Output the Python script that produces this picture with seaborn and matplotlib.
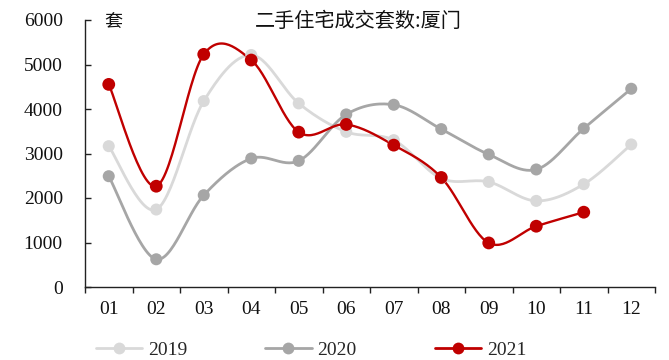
import numpy as np
import pandas as pd
import matplotlib
matplotlib.use("Agg")
import matplotlib.pyplot as plt
from matplotlib.lines import Line2D
import seaborn as sns

# Monthly second-hand housing transactions in Xiamen (units)
months = ["01", "02", "03", "04", "05", "06", "07", "08", "09", "10", "11", "12"]
sales_2019 = [3165, 1741, 4178, 5213, 4126, 3487, 3300, 2440, 2362, 1935, 2310, 3204]
sales_2020 = [2490, 623, 2063, 2888, 2835, 3878, 4095, 3548, 2979, 2641, 3563, 4455]
sales_2021 = [4553, 2265, 5228, 5100, 3480, 3653, 3188, 2461, 990, 1366, 1681]
years = ["2019", "2020", "2021"]
colors = ["#d9d9d9", "#a6a6a6", "#c00000"]

sns.set_theme(style="white")
plt.rcParams["font.family"] = ["Liberation Serif", "Noto Sans CJK SC"]


def smooth(xs, ys, n=30):
    """Catmull-Rom spline through the points (same as smoothed lines in office charts)."""
    pts = np.column_stack([xs, ys]).astype(float)
    p = np.vstack([pts[0], pts, pts[-1]])
    out = []
    for i in range(1, len(p) - 2):
        p0, p1, p2, p3 = p[i - 1], p[i], p[i + 1], p[i + 2]
        c1 = p1 + (p2 - p0) / 6.0
        c2 = p2 - (p3 - p1) / 6.0
        t = np.linspace(0, 1, n, endpoint=(i == len(p) - 3))[:, None]
        seg = ((1 - t) ** 3) * p1 + 3 * ((1 - t) ** 2) * t * c1 + 3 * (1 - t) * t ** 2 * c2 + t ** 3 * p2
        out.append(seg)
    out = np.vstack(out)
    return out[:, 0], out[:, 1]


series = [sales_2019, sales_2020, sales_2021]
pts_rows, curve_rows = [], []
for yr, vals in zip(years, series):
    xs = np.arange(len(vals))
    for x, v in zip(xs, vals):
        pts_rows.append({"x": x, "value": v, "year": yr})
    sx, sy = smooth(xs, vals)
    for x, v in zip(sx, sy):
        curve_rows.append({"x": x, "value": v, "year": yr})
pts = pd.DataFrame(pts_rows)
curves = pd.DataFrame(curve_rows)
palette = dict(zip(years, colors))

fig = plt.figure(figsize=(6.69, 3.6), dpi=100)
ax = fig.add_axes([85 / 669, 1 - 287 / 360, 570 / 669, 267 / 360])

for yr, lw in zip(years, [2.0, 2.0, 1.7]):
    sns.lineplot(data=curves[curves.year == yr], x="x", y="value", color=palette[yr],
                 linewidth=lw, sort=False, estimator=None, ax=ax, legend=False)
    sns.scatterplot(data=pts[pts.year == yr], x="x", y="value", color=palette[yr],
                    s=75 if yr != "2021" else 85, edgecolor="none", ax=ax, legend=False, zorder=3)

ax.set_xlim(-0.5, 11.5)
ax.set_ylim(0, 6000)
ax.set_yticks(np.arange(0, 6001, 1000))
ax.set_xticks(np.arange(12))
ax.set_xticklabels(months)
ax.set_xticks(np.arange(-0.5, 12, 1), minor=True)
ax.set_xlabel("")
ax.set_ylabel("")

for side in ["top", "right"]:
    ax.spines[side].set_visible(False)
for side in ["left", "bottom"]:
    ax.spines[side].set_color("#222222")
    ax.spines[side].set_linewidth(1.0)

ax.tick_params(axis="x", which="major", length=0, pad=10, labelsize=14, colors="#111111")
ax.tick_params(axis="x", which="minor", direction="out", length=4.5, width=1.0, color="#222222", bottom=True)
ax.tick_params(axis="y", direction="in", length=4.5, width=1.0, color="#222222", pad=16,
               labelsize=14, left=True, labelcolor="#111111")

ax.text(28 / 570, 0.993, "套", transform=ax.transAxes, ha="center", va="center",
        fontsize=13, family=["Noto Sans CJK SC"], color="#111111")
ax.text((358 - 85) / 570, 0.993, "二手住宅成交套数:厦门", transform=ax.transAxes,
        ha="center", va="center", fontsize=14.5, family=["Noto Sans CJK SC", "DejaVu Sans"],
        color="#111111")

handles = [Line2D([0], [0], color=c, linewidth=2.0, marker="o", markersize=8.5,
                  markeredgecolor="none") for c in colors]
fig.legend(handles, years, loc="center", bbox_to_anchor=(311 / 669, 1 - 350 / 360),
           ncol=3, frameon=False, fontsize=14, handlelength=2.4, handletextpad=0.3,
           columnspacing=4.0)

fig.savefig("out.png", dpi=100)
